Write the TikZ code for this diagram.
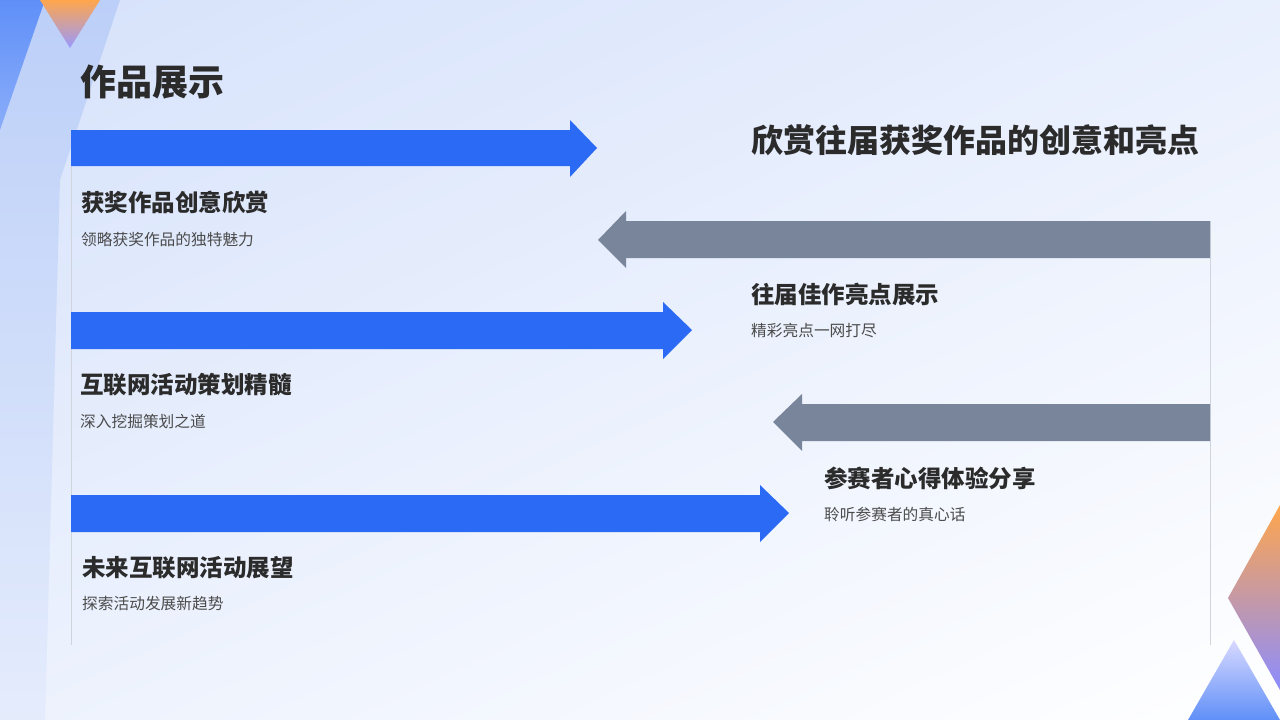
\documentclass[tikz,border=0pt]{standalone}
\usepackage{fontspec}
\setmainfont{Noto Sans CJK SC}
\usetikzlibrary{positioning,shadings}
\definecolor{bluearrow}{HTML}{2A6AF5}
\definecolor{grayarrow}{HTML}{78859A}
\definecolor{darktext}{HTML}{2B2B2B}
\definecolor{bgblue}{HTML}{D6E2FB}
\definecolor{bandblue}{HTML}{BCCFF8}
\definecolor{sideline}{HTML}{D0D4DC}
\tikzset{
  heading/.style={anchor=west, inner sep=0pt, font=\bfseries\fontsize{23.5}{25}\selectfont, text=darktext},
  desc/.style={anchor=west, inner sep=0pt, font=\fontsize{15.7}{17}\selectfont, text=darktext!85},
  bluepath/.style={fill=bluearrow, draw=none},
  graypath/.style={fill=grayarrow, draw=none},
}
\begin{document}
\begin{tikzpicture}[x=1pt,y=-1pt]
  % Hintergrund
  \useasboundingbox (0,0) rectangle (1280,720);
  \shade[upper left=bgblue, upper right=bgblue!55!white, lower left=bgblue!45!white, lower right=white] (0,0) rectangle (1280,720);

  % Dekoration links oben
  \shade[top color=bandblue, bottom color=bandblue!40!white] (0,0) -- (120,0) -- (60,180) -- (45,720) -- (0,720) -- cycle;
  \shade[top color=bluearrow!75, bottom color=bluearrow!55] (0,0) -- (45,0) -- (0,130) -- cycle;
  \shade[top color=orange!70, bottom color=blue!40] (40,0) -- (100,0) -- (70,48) -- cycle;

  % Dekoration rechts unten
  \shade[top color=orange!70, bottom color=blue!45] (1280,505) -- (1228,598) -- (1280,690) -- cycle;
  \shade[top color=blue!15, bottom color=bluearrow!75] (1234,640) -- (1188,720) -- (1280,720) -- cycle;

  % Trennlinien
  \draw[sideline, line width=1pt] (71,130) -- (71,645);
  \draw[sideline, line width=1pt] (1210,221) -- (1210,645);

  % Titel
  \node[anchor=west, inner sep=0pt, font=\bfseries\fontsize{36}{38}\selectfont, text=darktext] (title) at (80,82) {作品展示};
  \node[anchor=east, inner sep=0pt, font=\bfseries\fontsize{32}{34}\selectfont, text=darktext] (subtitle) at (1200,140) {欣赏往届获奖作品的创意和亮点};

  % Pfeile nach rechts
  \fill[bluepath] (71,130) -- (570,130) -- (570,120) -- (597,148) -- (570,177) -- (570,166) -- (71,166) -- cycle;
  \fill[bluepath] (71,312) -- (663,312) -- (663,302) -- (692,330) -- (663,359) -- (663,349) -- (71,349) -- cycle;
  \fill[bluepath] (71,495) -- (760,495) -- (760,485) -- (789,513) -- (760,542) -- (760,532) -- (71,532) -- cycle;

  % Pfeile nach links
  \fill[graypath] (1210,221) -- (626,221) -- (626,211) -- (598,240) -- (626,268) -- (626,258) -- (1210,258) -- cycle;
  \fill[graypath] (1210,404) -- (802,404) -- (802,394) -- (773,422) -- (802,451) -- (802,441) -- (1210,441) -- cycle;

  % Beschriftungen links
  \node[heading] (h1) at (81,202) {获奖作品创意欣赏};
  \node[desc] (d1) at (81,240) {领略获奖作品的独特魅力};
  \node[heading] (h2) at (80,385) {互联网活动策划精髓};
  \node[desc] (d2) at (80,421) {深入挖掘策划之道};
  \node[heading] (h3) at (82,568) {未来互联网活动展望};
  \node[desc] (d3) at (82,604) {探索活动发展新趋势};

  % Beschriftungen rechts
  \node[heading] (h4) at (751,295) {往届佳作亮点展示};
  \node[desc] (d4) at (751,331) {精彩亮点一网打尽};
  \node[heading] (h5) at (824,478) {参赛者心得体验分享};
  \node[desc] (d5) at (824,514) {聆听参赛者的真心话};
\end{tikzpicture}
\end{document}
